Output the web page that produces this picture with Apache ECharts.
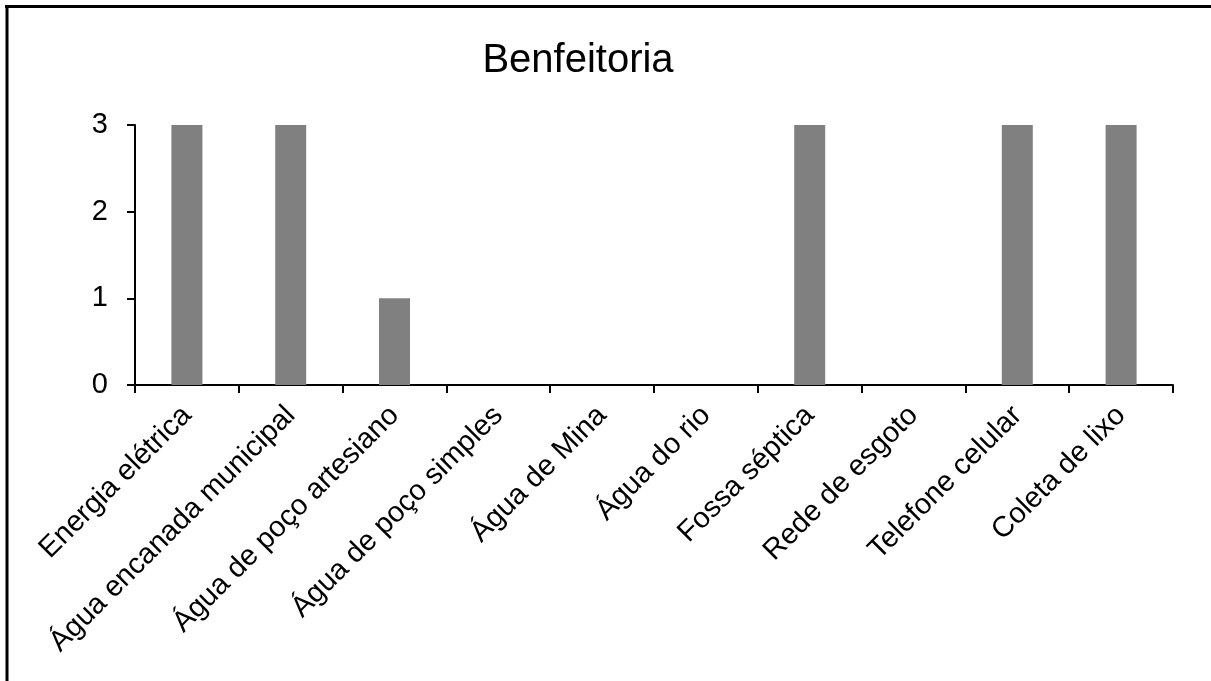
<!DOCTYPE html>
<html>
<head>
<meta charset="utf-8">
<style>
  html, body { margin: 0; padding: 0; background: #ffffff; }
  #chart { width: 1211px; height: 681px; }
</style>
<script src="https://cdn.jsdelivr.net/npm/echarts@6/dist/echarts.min.js"></script>
</head>
<body>
<div id="chart"></div>
<script>
// Household amenities and the number of responses for each
const categories = [
  'Energia elétrica',
  'Água encanada municipal',
  'Água de poço artesiano',
  'Água de poço simples',
  'Água de Mina',
  'Água do rio',
  'Fossa séptica',
  'Rede de esgoto',
  'Telefone celular',
  'Coleta de lixo'
];
const counts = [3, 3, 1, 0, 0, 0, 3, 0, 3, 3];
const yTicks = [0, 1, 2, 3];

const FONT = 'Liberation Sans, Arial, sans-serif';

const chart = echarts.init(document.getElementById('chart'), null, { renderer: 'canvas' });

chart.setOption({
  backgroundColor: '#ffffff',
  animation: false,
  title: {
    text: 'Benfeitoria',
    left: 573,
    top: 36,
    textAlign: 'center',
    textStyle: { fontFamily: FONT, fontSize: 40, fontWeight: 'normal', color: '#000000' }
  },
  graphic: [
    // frame edges along the top and left of the drawing area
    { type: 'line', shape: { x1: 5, y1: 6.5, x2: 1211, y2: 6.5 }, style: { stroke: '#000000', lineWidth: 3 } },
    { type: 'line', shape: { x1: 7, y1: 5, x2: 7, y2: 681 }, style: { stroke: '#000000', lineWidth: 3 } }
  ],
  grid: { left: 135, right: 38, top: 125, height: 260, containLabel: false },
  xAxis: {
    type: 'category',
    data: categories,
    axisLine: { show: true, lineStyle: { color: '#000000', width: 2 } },
    axisTick: { show: true, length: 8, lineStyle: { color: '#000000', width: 2 } },
    axisLabel: {
      interval: 0,
      rotate: 45,
      margin: 26,
      fontFamily: FONT,
      fontSize: 29,
      color: '#000000'
    }
  },
  yAxis: {
    type: 'value',
    min: 0,
    max: yTicks[yTicks.length - 1],
    interval: 1,
    splitLine: { show: false },
    axisLine: { show: true, lineStyle: { color: '#000000', width: 2 } },
    axisTick: { show: true, length: 8, lineStyle: { color: '#000000', width: 2 } },
    axisLabel: {
      margin: 27,
      fontFamily: FONT,
      fontSize: 29,
      color: '#000000',
      formatter: v => yTicks.includes(v) ? String(v) : ''
    }
  },
  series: [{
    type: 'bar',
    data: counts,
    barWidth: 31,
    itemStyle: { color: '#808080' }
  }]
});
</script>
</body>
</html>
